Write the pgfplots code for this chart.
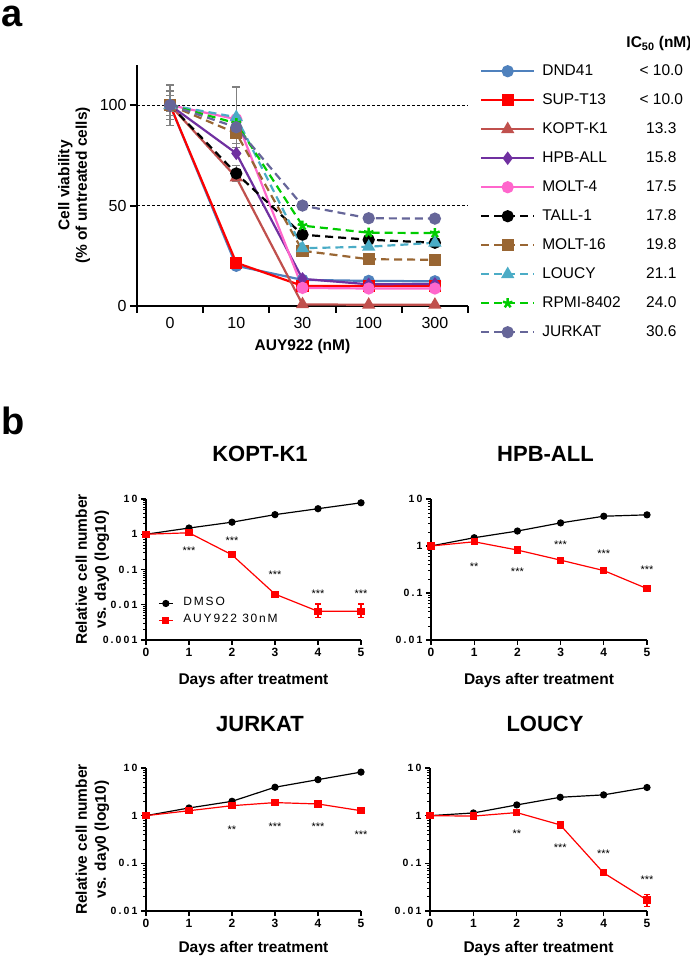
\documentclass[border=0pt]{standalone}
\usepackage{pgfplots}
\pgfplotsset{compat=1.18}
\usepackage{fontspec}
\setmainfont{Liberation Sans}
\newfontfamily\spaced[LetterSpace=20]{Liberation Sans}
\newfontfamily\spacedl[LetterSpace=15]{Liberation Sans}
\definecolor{cDND}{RGB}{79,129,189}
\definecolor{cSUP}{RGB}{255,0,0}
\definecolor{cKOPT}{RGB}{192,80,77}
\definecolor{cHPB}{RGB}{112,48,160}
\definecolor{cMOLT4}{RGB}{255,102,204}
\definecolor{cMOLT16}{RGB}{153,102,51}
\definecolor{cLOUCY}{RGB}{75,172,198}
\definecolor{cRPMI}{RGB}{0,204,0}
\definecolor{cJURK}{RGB}{102,102,153}
\newcommand{\fs}[2]{\fontsize{#1}{#2}\selectfont}
\pgfplotsset{
  dmso/.style={black, line width=1.2pt, mark=*, mark size=3pt},
  auy/.style={red, line width=1.2pt, mark=square*, mark size=3pt},
  stars/.style={forget plot, draw=none, mark=none, nodes near coords, point meta=explicit symbolic,
      nodes near coords style={anchor=center, font=\fs{11}{12}, inner sep=0pt, yshift=-2.5pt}},
  bstyle/.style={
    anchor=south west, scale only axis,
    xmin=0, xmax=5, ymax=10,
    axis lines=left, axis line style={-, line width=1.6pt},
    tick align=outside, major tick length=5pt, minor tick length=3pt,
    every tick/.style={black, line width=1.2pt},
    minor tick style={line width=0.6pt},
    xtick={0,1,2,3,4,5},
    xticklabel style={font=\fs{12}{14}\bfseries},
    yticklabel style={font=\spaced\fs{10.5}{12}\bfseries},
    xlabel={Days after treatment},
    xlabel style={font=\fs{15.5}{18}\bfseries, anchor=center},
    title style={font=\fs{22}{24}\bfseries, anchor=center, at={(axis description cs:0.53,1)}, yshift=39pt},
    /pgf/number format/assume math mode=true,
    clip=false,
    error bars/error bar style={red, line width=1.2pt},
    error bars/error mark options={red, line width=1.2pt, mark size=3pt, rotate=90},
  },
  ylab/.style={ylabel={Relative cell number\\vs. day0 (log10)},
    ylabel style={font=\fs{15.5}{19}\bfseries, align=center, anchor=center, at={(axis description cs:-0.249,0.5)}}},
}
\begin{document}
\begin{tikzpicture}[x=1pt,y=1pt]
\useasboundingbox (0,0) rectangle (690,958);
\node[anchor=base west, font=\fs{38}{40}\bfseries, inner sep=0pt] at (1,931) {a};
\node[anchor=base west, font=\fs{38}{40}\bfseries, inner sep=0pt] at (1,523) {b};
\node[font=\fs{15.5}{18}\bfseries] at (659,914) {IC\textsubscript{50} (nM)};

% ---------------- panel a
\begin{axis}[
  at={(137pt,652pt)}, anchor=south west, scale only axis,
  width=331pt, height=241pt,
  xmin=-0.5, xmax=4.5, ymin=0, ymax=120,
  axis lines=left, axis line style={-, line width=2.2pt},
  tick align=outside, major tick length=7pt,
  every tick/.style={black, line width=2pt},
  xtick={-0.5,0.5,1.5,2.5,3.5,4.5}, xticklabels={},
  extra x ticks={0,1,2,3,4}, extra x tick labels={0,10,30,100,300},
  extra x tick style={major tick length=0pt},
  xticklabel style={yshift=-8pt},
  ytick={0,50,100},
  ymajorgrids, major grid style={densely dashed, black, line width=0.6pt},
  tick label style={font=\fs{16}{18}},
  /pgf/number format/assume math mode=true,
  xlabel={AUY922 (nM)},
  xlabel style={font=\fs{15.5}{18}\bfseries, at={(axis description cs:0.5,-0.17)}, anchor=center},
  ylabel={Cell viability\\(\% of untreated cells)},
  ylabel style={font=\fs{15.5}{17.5}\bfseries, align=center, at={(axis description cs:-0.19,0.5)}, anchor=center},
  clip=false,
  legend cell align=left,
  legend style={draw=none, fill=none, at={(axis description cs:1.036,1.004)}, anchor=north west,
    font=\fs{15.5}{18}, row sep=15pt, column sep=7pt, inner sep=0pt,
    nodes={inner sep=0pt, text height=11pt, text depth=3pt}},
  legend image code/.code={\draw[mark repeat=2,mark phase=2] plot coordinates {(0pt,0pt) (26.5pt,0pt) (53pt,0pt)};},
  every axis plot/.append style={line width=2.2pt},
  error bars/error bar style={gray, line width=1.2pt, solid},
  error bars/error mark options={gray, line width=1.2pt, mark size=4pt, rotate=90, solid},
]
\addplot[cDND, mark=*, mark size=5pt, mark options={fill=cDND}] coordinates {(0,100) (1,20) (2,13) (3,12.5) (4,12.3)};
\addlegendentry{\makebox[96pt][l]{DND41}\makebox[46pt][c]{< 10.0}}
\addplot[cSUP, mark=square*, mark size=5pt] coordinates {(0,100) (1,21.5) (2,10) (3,10) (4,10)};
\addlegendentry{\makebox[96pt][l]{SUP-T13}\makebox[46pt][c]{< 10.0}}
\addplot[cKOPT, mark=triangle*, mark size=5.5pt] coordinates {(0,100) (1,64) (2,0.8) (3,0.6) (4,0.6)};
\addlegendentry{\makebox[96pt][l]{KOPT-K1}\makebox[46pt][c]{13.3}}
\addplot[cHPB, mark=diamond*, mark size=5pt] coordinates {(0,100) (1,76) (2,13.5) (3,10.8) (4,11)};
\addlegendentry{\makebox[96pt][l]{HPB-ALL}\makebox[46pt][c]{15.8}}
\addplot[cMOLT4, mark=*, mark size=5pt] coordinates {(0,100) (1,93) (2,9) (3,8.7) (4,8.7)};
\addlegendentry{\makebox[96pt][l]{MOLT-4}\makebox[46pt][c]{17.5}}
\addplot[black, dash pattern=on 8pt off 5pt, mark=*, mark size=5pt, mark options={solid},
  error bars/.cd, y dir=both, y explicit] coordinates {(0,100) +- (0,5) (1,66) +- (0,4) (2,35.5) +- (0,0) (3,33) +- (0,0) (4,31.5) +- (0,0)};
\addlegendentry{\makebox[96pt][l]{TALL-1}\makebox[46pt][c]{17.8}}
\addplot[cMOLT16, dash pattern=on 8pt off 5pt, mark=square*, mark size=5pt, mark options={solid},
  error bars/.cd, y dir=both, y explicit] coordinates {(0,100) +- (0,7) (1,86) +- (0,5) (2,27.5) +- (0,0) (3,23.3) +- (0,0) (4,23) +- (0,0)};
\addlegendentry{\makebox[96pt][l]{MOLT-16}\makebox[46pt][c]{19.8}}
\addplot[cLOUCY, dash pattern=on 8pt off 5pt, mark=triangle*, mark size=5.5pt, mark options={solid},
  error bars/.cd, y dir=both, y explicit] coordinates {(0,100) +- (0,3) (1,94) +- (0,15) (2,28.8) +- (0,0) (3,29.5) +- (0,0) (4,31.5) +- (0,0)};
\addlegendentry{\makebox[96pt][l]{LOUCY}\makebox[46pt][c]{21.1}}
\addplot[cRPMI, dash pattern=on 8pt off 5pt, mark=star, mark size=5pt, mark options={solid, line width=2.5pt}] coordinates {(0,100) (1,91) (2,40) (3,36.5) (4,36.3)};
\addlegendentry{\makebox[96pt][l]{RPMI-8402}\makebox[46pt][c]{24.0}}
\addplot[cJURK, dash pattern=on 8pt off 5pt, mark=*, mark size=5pt, mark options={solid},
  error bars/.cd, y dir=both, y explicit] coordinates {(0,100) +- (0,10) (1,89) +- (0,3) (2,50) +- (0,0) (3,43.7) +- (0,0) (4,43.5) +- (0,0)};
\addlegendentry{\makebox[96pt][l]{JURKAT}\makebox[46pt][c]{30.6}}
\end{axis}

% ---------------- KOPT-K1
\begin{axis}[bstyle, ylab, ymode=log, at={(146pt,318pt)}, width=215pt, height=141pt, ymin=0.001,
  ytick={0.001,0.01,0.1,1,10}, yticklabels={0.001,0.01,0.1,1,10},
  minor ytick={0.002,0.003,0.004,0.005,0.006,0.007,0.008,0.009,0.02,0.03,0.04,0.05,0.06,0.07,0.08,0.09,0.2,0.3,0.4,0.5,0.6,0.7,0.8,0.9,2,3,4,5,6,7,8,9},
  xlabel style={at={(axis description cs:0.5,-0.284)}},
  title={KOPT-K1},
  legend cell align=left,
  legend style={draw=none, fill=none, at={(axis description cs:0.056,0.31)}, anchor=north west,
    font=\spacedl\fs{12}{14}, row sep=3pt, column sep=10pt, inner sep=0pt,
    nodes={inner sep=0pt, text height=9pt, text depth=5pt}},
  legend image code/.code={\draw[mark repeat=2,mark phase=2] plot coordinates {(0pt,0pt) (7pt,0pt) (14pt,0pt)};},
]
\addplot[dmso] coordinates {(0,1) (1,1.5) (2,2.2) (3,3.6) (4,5.3) (5,7.8)};
\addlegendentry{DMSO}
\addplot[auy, error bars/.cd, y dir=both, y explicit] coordinates {(0,1) +- (0,0) (1,1.1) +- (0,0) (2,0.26) +- (0,0) (3,0.02) +- (0,0) (4,0.0065) += (0,0.004) -= (0,0.0022) (5,0.0065) += (0,0.004) -= (0,0.0022)};
\addlegendentry{AUY922 30nM}
\addplot[stars] table[meta=t] {
x y t
1 0.39 ***
2 0.75 ***
3 0.085 ***
4 0.025 ***
5 0.025 ***
};
\end{axis}

% ---------------- HPB-ALL
\begin{axis}[bstyle, ymode=log, at={(431pt,318pt)}, width=216pt, height=141pt, ymin=0.01,
  ytick={0.01,0.1,1,10}, yticklabels={0.01,0.1,1,10},
  minor ytick={0.02,0.03,0.04,0.05,0.06,0.07,0.08,0.09,0.2,0.3,0.4,0.5,0.6,0.7,0.8,0.9,2,3,4,5,6,7,8,9},
  xlabel style={at={(axis description cs:0.5,-0.284)}},
  title={HPB-ALL},
]
\addplot[dmso] coordinates {(0,1) (1,1.5) (2,2.08) (3,3.1) (4,4.3) (5,4.6)};
\addplot[auy] coordinates {(0,1) (1,1.23) (2,0.82) (3,0.5) (4,0.3) (5,0.124)};
\addplot[stars] table[meta=t] {
x y t
1 0.41 **
2 0.32 ***
3 1.23 ***
4 0.77 ***
5 0.36 ***
};
\end{axis}

% ---------------- JURKAT
\begin{axis}[bstyle, ylab, ymode=log, at={(146pt,47pt)}, width=215pt, height=143pt, ymin=0.01,
  ytick={0.01,0.1,1,10}, yticklabels={0.01,0.1,1,10},
  minor ytick={0.02,0.03,0.04,0.05,0.06,0.07,0.08,0.09,0.2,0.3,0.4,0.5,0.6,0.7,0.8,0.9,2,3,4,5,6,7,8,9},
  xlabel style={at={(axis description cs:0.5,-0.26)}},
  title={JURKAT}, title style={yshift=-1pt},
]
\addplot[dmso] coordinates {(0,1) (1,1.45) (2,2.0) (3,3.95) (4,5.7) (5,8.2)};
\addplot[auy] coordinates {(0,1) (1,1.27) (2,1.62) (3,1.88) (4,1.76) (5,1.27)};
\addplot[stars] table[meta=t] {
x y t
2 0.57 **
3 0.67 ***
4 0.67 ***
5 0.46 ***
};
\end{axis}

% ---------------- LOUCY
\begin{axis}[bstyle, ymode=log, at={(430pt,47pt)}, width=217pt, height=143pt, ymin=0.01,
  ytick={0.01,0.1,1,10}, yticklabels={0.01,0.1,1,10},
  minor ytick={0.02,0.03,0.04,0.05,0.06,0.07,0.08,0.09,0.2,0.3,0.4,0.5,0.6,0.7,0.8,0.9,2,3,4,5,6,7,8,9},
  xlabel style={at={(axis description cs:0.5,-0.26)}},
  title={LOUCY}, title style={yshift=-1pt},
]
\addplot[dmso] coordinates {(0,1) (1,1.14) (2,1.68) (3,2.43) (4,2.73) (5,3.9)};
\addplot[auy, error bars/.cd, y dir=both, y explicit] coordinates {(0,1) +- (0,0) (1,0.98) +- (0,0) (2,1.16) +- (0,0) (3,0.64) +- (0,0) (4,0.063) +- (0,0) (5,0.017) += (0,0.005) -= (0,0.0045)};
\addplot[stars] table[meta=t] {
x y t
2 0.47 **
3 0.24 ***
4 0.18 ***
5 0.05 ***
};
\end{axis}
\end{tikzpicture}
\end{document}
